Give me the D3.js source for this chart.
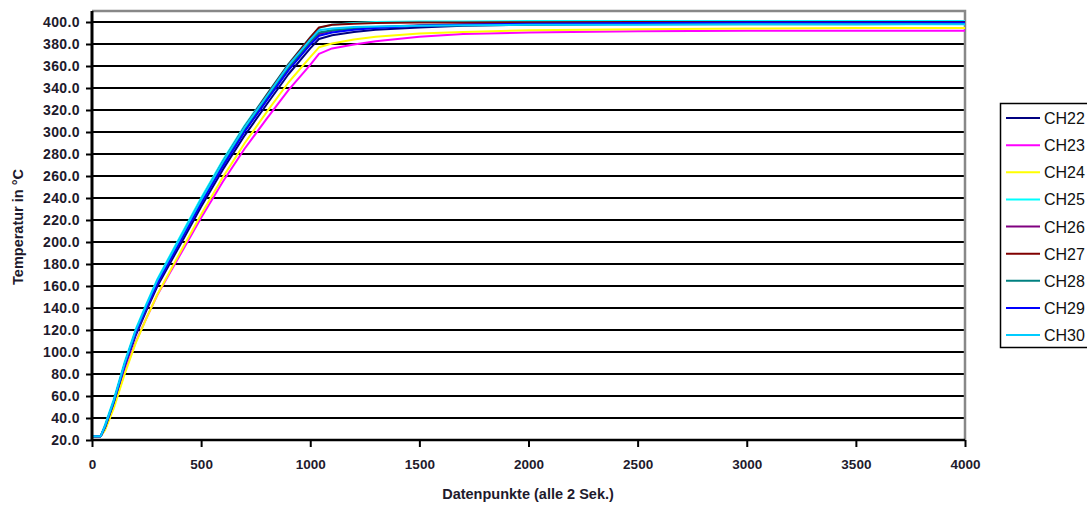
<!DOCTYPE html>
<html>
<head>
<meta charset="utf-8">
<script src="https://cdn.jsdelivr.net/npm/d3@7"></script>
<style>
  body { margin: 0; background: #fff; }
  svg { display: block; font-family: "Liberation Sans", Arial, sans-serif; }
</style>
</head>
<body>
<svg id="chart" width="1087" height="505"></svg>
<script>
// sample points along the x axis (Datenpunkte)
const points = [0, 40, 60, 100, 150, 200, 250, 300, 400, 500, 600, 700, 800, 900, 1000, 1040, 1100, 1200, 1300, 1500, 1700, 2000, 2500, 3000, 3500, 4000];

const ch22 = [23.5, 23.5, 31, 53, 86, 115, 138, 160, 196, 232, 266, 297, 325, 352.5, 376, 384.5, 388, 391, 393, 395, 396.5, 397.5, 398.5, 399, 399, 399];
const ch23 = [23.5, 23.5, 30, 51, 82, 109, 131, 152, 187, 222, 255, 285, 312, 338, 361, 371, 376, 379.5, 382.5, 386.5, 389, 390.5, 391.5, 392, 392, 392];
const ch24 = [23.5, 23.5, 29, 49, 80, 108, 131, 152.5, 189, 225, 259, 290, 318, 345, 368, 377, 380.5, 384, 386.5, 389.5, 391, 392.5, 393.5, 394, 394.5, 394.5];
const ch25 = [23.5, 23.5, 34, 57, 91, 120.5, 144, 166.5, 203.5, 240, 274.5, 306, 334, 362, 386, 394.5, 397.5, 399, 400, 400.5, 400.5, 400.8, 401, 401, 401, 401];
const ch26 = [23.5, 23.5, 31.5, 54, 87.5, 117, 140, 162.5, 199, 235.5, 270, 301.5, 330, 357.5, 381, 389, 392, 394, 395.5, 397, 398, 398.5, 399, 399.5, 399.5, 399.5];
const ch27 = [23.5, 23.5, 32, 55, 89, 118.5, 142, 164.5, 201.5, 238, 273, 305, 333.5, 361.5, 386, 395, 397.5, 398.5, 399, 399.5, 399.5, 399.8, 400, 400, 400, 400];
const ch28 = [23.5, 23.5, 32, 54.5, 88, 117.5, 141, 163, 200, 236.5, 271, 302.5, 331, 358.5, 382, 390.5, 392.5, 394, 395, 396.5, 397, 397.5, 398, 398, 398, 398.5];
const ch29 = [23.5, 23.5, 32.5, 55, 88.5, 117.5, 140.5, 162.5, 199, 235, 269, 300.5, 328.5, 356, 379.5, 387.5, 390.5, 393, 394.5, 396.5, 397.5, 398.5, 399, 399.5, 399.5, 399.5];
const ch30 = [23.5, 23.5, 33, 56, 90, 119.5, 143, 165.5, 202, 238.5, 273, 304.5, 332.5, 360.5, 384, 392.5, 394, 395.5, 396, 396.5, 397, 397.5, 397.5, 398, 398, 398];

const seriesNames = ["CH22", "CH23", "CH24", "CH25", "CH26", "CH27", "CH28", "CH29", "CH30"];
const seriesValues = [ch22, ch23, ch24, ch25, ch26, ch27, ch28, ch29, ch30];
const seriesColors = ["#000080", "#ff00ff", "#ffff00", "#00ffff", "#800080", "#800000", "#008080", "#0000ff", "#00ccff"];

const yTicks = d3.range(20, 401, 20);
const xTicks = [0, 500, 1000, 1500, 2000, 2500, 3000, 3500, 4000];

const svg = d3.select("#chart");
const plot = {left: 92, right: 965, top: 11, bottom: 440};
const labelColor = "#1e1a2c";

const x = d3.scaleLinear().domain([0, 4000]).range([plot.left, plot.right]);
const y = d3.scaleLinear().domain([20, 410]).range([plot.bottom, plot.top]);

// gridlines
svg.append("g")
    .selectAll("line")
    .data(yTicks)
    .join("line")
    .attr("x1", plot.left).attr("x2", plot.right)
    .attr("y1", d => y(d)).attr("y2", d => y(d))
    .attr("stroke", "#000")
    .attr("stroke-width", 2);

// plot frame (top and right, grey)
svg.append("path")
    .attr("d", `M${plot.left},${plot.top}H${plot.right}V${plot.bottom}`)
    .attr("fill", "none")
    .attr("stroke", "#888")
    .attr("stroke-width", 2.5);

// series
const line = d3.line()
    .x((d, i) => x(points[i]))
    .y(d => y(d));

svg.append("g")
    .selectAll("path")
    .data(seriesValues)
    .join("path")
    .attr("d", line)
    .attr("fill", "none")
    .attr("stroke", (d, i) => seriesColors[i])
    .attr("stroke-width", 2)
    .attr("stroke-linejoin", "round");

// y axis
const yAxis = svg.append("g")
    .attr("transform", `translate(${plot.left},0)`)
    .call(d3.axisLeft(y).tickValues(yTicks).tickSize(6).tickPadding(6).tickFormat(d3.format(".1f")));
yAxis.select(".domain").attr("d", `M0,${plot.top}V${plot.bottom}`).attr("stroke-width", 3);
yAxis.selectAll(".tick line").attr("stroke-width", 2);
yAxis.selectAll("text")
    .attr("font-size", 14)
    .attr("font-weight", "bold")
    .attr("letter-spacing", 0.4)
    .attr("fill", labelColor)
    .attr("font-family", "Liberation Sans, Arial, sans-serif");

// x axis
const xAxis = svg.append("g")
    .attr("transform", `translate(0,${plot.bottom})`)
    .call(d3.axisBottom(x).tickValues(xTicks).tickSize(7).tickPadding(12).tickFormat(d3.format("d")));
xAxis.select(".domain").attr("d", `M${plot.left},0H${plot.right}`).attr("stroke-width", 2.5);
xAxis.selectAll(".tick line").attr("stroke-width", 2);
xAxis.selectAll("text")
    .attr("font-size", 13.5)
    .attr("font-weight", "bold")
    .attr("fill", labelColor)
    .attr("font-family", "Liberation Sans, Arial, sans-serif");

// axis titles
svg.append("text")
    .attr("x", 528).attr("y", 499)
    .attr("text-anchor", "middle")
    .attr("font-size", 14.5).attr("font-weight", "bold")
    .attr("fill", labelColor)
    .text("Datenpunkte (alle 2 Sek.)");

svg.append("text")
    .attr("transform", "translate(23,227) rotate(-90)")
    .attr("text-anchor", "middle")
    .attr("font-size", 14.5).attr("font-weight", "bold")
    .attr("fill", labelColor)
    .text("Temperatur in °C");

// legend
const legY = d3.scalePoint().domain(seriesNames).range([118, 335]);
svg.append("rect")
    .attr("x", 1000.5).attr("y", 103.5)
    .attr("width", 120).attr("height", 244)
    .attr("fill", "#fff")
    .attr("stroke", "#000")
    .attr("stroke-width", 1.5);

const leg = svg.append("g")
    .selectAll("g")
    .data(seriesNames)
    .join("g")
    .attr("transform", d => `translate(0,${legY(d)})`);
leg.append("line")
    .attr("x1", 1006).attr("x2", 1040)
    .attr("stroke", (d, i) => seriesColors[i])
    .attr("stroke-width", 2);
leg.append("text")
    .attr("x", 1044).attr("y", 6)
    .attr("font-size", 16)
    .attr("fill", "#111")
    .text(d => d);
</script>
</body>
</html>
